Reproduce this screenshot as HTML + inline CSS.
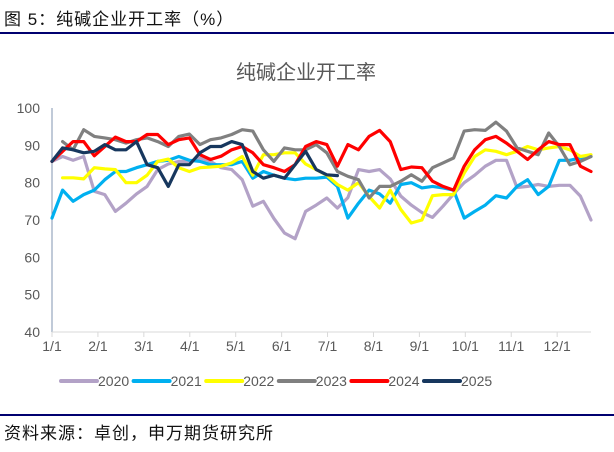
<!DOCTYPE html>
<html><head><meta charset="utf-8"><style>
body{margin:0;width:614px;height:447px;background:#fff;overflow:hidden;font-family:"Liberation Sans","Noto Sans CJK SC",sans-serif}
</style></head><body>
<svg width="614" height="447" xmlns="http://www.w3.org/2000/svg">
<text x="4" y="25" font-size="17" fill="#111" font-family="'Liberation Sans','Noto Sans CJK SC',sans-serif" letter-spacing="1">图 5：纯碱企业开工率（%）</text>
<rect x="0" y="32" width="614" height="2" fill="#000070"/>
<text x="306" y="79" font-size="20" fill="#595959" text-anchor="middle" font-family="'Liberation Sans','Noto Sans CJK SC',sans-serif">纯碱企业开工率</text>
<g id="axes"></g>
<g id="plot"></g>
<g id="legend"></g>
<rect x="0" y="414" width="614" height="2" fill="#000070"/>
<text x="4" y="439" font-size="17" fill="#111" font-family="'Liberation Sans','Noto Sans CJK SC',sans-serif" letter-spacing="1">资料来源：卓创，申万期货研究所</text>
</svg>
<script>
const yTicks=[40,50,60,70,80,90,100];
const monthLabels=["1/1","2/1","3/1","4/1","5/1","6/1","7/1","8/1","9/1","10/1","11/1","12/1"];
const years=["2020","2021","2022","2023","2024","2025"];
const colors=["#b3a2c7","#00b0f0","#ffff00","#808080","#ff0000","#17375e"];
const s2020=[85.7,87,86,87,77.7,76.8,72.3,74.5,77,79,83.5,85,85.7,85.7,86.6,85.7,84,83.5,80.8,73.7,75,70.4,66.5,65,72.3,74,75.9,73.2,76,83.5,83,83.5,81,76.4,74,72,70.7,73.7,77,80,82,84.4,86,86,78.7,79,79.5,79,79.3,79.3,76.4,70];
const s2021=[70.5,78,75,76.8,78,80.8,83,83,84,84.8,85.7,86,87,86,85.7,84.8,84.8,84.8,85.7,81.2,83,82,81.2,80.8,81.2,81.2,81.5,79,70.5,74.5,78,77,74.5,79.5,80,78.6,79,78.6,78,70.5,72.3,74,76.5,75.9,79,80.8,76.8,79,86,86,86.6,87];
const s2022=[null,81.3,81.3,81,84,83.7,83.5,80,80,82,85.7,86.3,84,83,84,84.2,84.4,85.3,87,82,87.5,87.5,88,88,85,83.5,82,79.5,78,80,76.3,73.2,78,72.8,69.2,70,76.5,76.8,76.8,82.6,87,88.8,88.4,87.5,88.4,89.7,88.8,89.3,89.7,88.8,87,87.5];
const s2023=[null,91,88.8,94.2,92.4,92,91.5,90.6,91.5,92,91,89.7,92.4,93,90.2,91.5,92,92.9,94.2,93.8,88.8,85.7,89.3,88.8,88.8,90.2,88,83,81.7,80.8,75.9,79,79,80.4,82.1,80.4,84,85.3,86.6,93.8,94.2,94,96.2,93.8,89.3,88.4,87.5,93.3,89.7,84.8,85.7,87];
const s2024=[85.7,88.4,91,91,87.2,89.7,92.2,91,91,92.9,92.9,90.2,91.5,92,87.5,86.2,87.1,88.8,89.7,88,84.8,84,83,84.8,89.7,91,90.2,84.4,90.2,88.8,92.4,94,91,83.5,84.2,84,80.4,79,78,84.4,88.8,91.5,92.4,90.6,88.4,86.2,88.8,91,90.2,90.2,84.4,83];
const s2025=[85.7,89.3,88.8,88,88.4,90.2,88.8,88.8,91,84.8,84,79,84.8,84.8,88,89.7,89.7,91,90.2,83,81.2,82,81.2,84.8,88.4,83.5,82.1,81.9];
const series=[s2020,s2021,s2022,s2023,s2024,s2025];
const NS="http://www.w3.org/2000/svg";
const X0=52,X1=591,Y0=332,Y1=108,WEEKS=51;
const xw=i=>X0+i*(X1-X0)/WEEKS;
const xm=m=>X0+m*(X1-X0)*(365/12)/(7*WEEKS);
const yv=v=>Y0-(v-40)*(Y0-Y1)/60;
function mk(tag,attrs,parent){const e=document.createElementNS(NS,tag);for(const k in attrs)e.setAttribute(k,attrs[k]);parent.appendChild(e);return e;}
const axes=document.getElementById('axes');
const ya=mk('line',{x1:X0,y1:Y1,x2:X0,y2:Y0,stroke:'#8096b0','stroke-width':1},axes);


const xa=mk('line',{x1:X0,y1:Y0,x2:X1,y2:Y0,stroke:'#d9d9d9','stroke-width':1},axes);


yTicks.forEach(v=>{
 const t=mk('text',{x:X0-12,y:yv(v)+5,'font-size':14,fill:'#595959','text-anchor':'end'},axes);
 t.textContent=v;
 
 
});
monthLabels.forEach((m,i)=>{
 const x=xm(i);
 const tk=mk('line',{x1:x,y1:Y0,x2:x,y2:Y0+5,stroke:'#d9d9d9'},axes);
 
 
 const t=mk('text',{x:x,y:Y0+19,'font-size':14,fill:'#595959','text-anchor':'middle'},axes);
 t.textContent=m;
 
 
});
const plot=document.getElementById('plot');
series.forEach((s,k)=>{
 let d='';let pen=false;
 s.forEach((v,i)=>{if(v==null){pen=false;return;}d+=(pen?'L':'M')+xw(i).toFixed(1)+' '+yv(v).toFixed(1)+' ';pen=true;});
 const p=mk('path',{d:d,fill:'none',stroke:colors[k],'stroke-width':3.2,'stroke-linejoin':'round','stroke-linecap':'round'},plot);
 
 
});
const legend=document.getElementById('legend');
years.forEach((yr,k)=>{
 const lx=61+k*72.6;
 const g=mk('g',{},legend);
 
 
 mk('line',{x1:lx,y1:381,x2:lx+36,y2:381,stroke:colors[k],'stroke-width':4,'stroke-linecap':'round'},g);
 const t=mk('text',{x:lx+37,y:386,'font-size':14,fill:'#595959'},g);
 t.textContent=yr;
});
</script>
</body></html>
